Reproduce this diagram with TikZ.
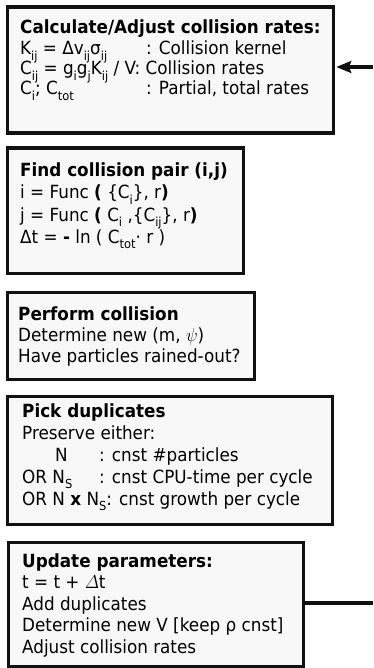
\documentclass[tikz,border=0pt]{standalone}
\usepackage{amsmath}
\usepackage{fontspec}
\setmainfont{DejaVu Sans}
\usetikzlibrary{arrows.meta}
\definecolor{boxfill}{HTML}{F8F8F8}
\definecolor{boxline}{HTML}{111111}
\newcommand{\lsub}[1]{\raisebox{-0.28em}{\fontsize{11.5}{11.5}\selectfont #1}}
\newcommand{\vs}[1]{\scalebox{1}[1.08]{#1}}
\tikzset{
  box/.style={draw=boxline, fill=boxfill, line width=3.2pt, inner sep=0pt, anchor=north west},
  txt/.style={anchor=base west, inner sep=0pt, font=\fontsize{16.8}{20}\selectfont},
  conn/.style={draw=boxline, line width=3.2pt}
}
\begin{document}
\begin{tikzpicture}[x=1pt,y=-1pt]
\useasboundingbox (0,0) rectangle (373,668);
% boxes
\node[box, minimum width=326pt, minimum height=126pt] (b1) at (5.5,5.5) {};
\node[box, minimum width=236pt, minimum height=125pt] (b2) at (5.5,146.5) {};
\node[box, minimum width=247pt, minimum height=87pt] (b3) at (5.5,290.5) {};
\node[box, minimum width=325pt, minimum height=128pt] (b4) at (5.5,394.5) {};
\node[box, minimum width=295pt, minimum height=124pt] (b5) at (6.5,540.5) {};
% box 1
\node[txt] (t1) at (20,34) {\vs{\textbf{Calculate/Adjust collision rates:}}};
\node[txt] (t1a) at (20,55) {\vs{K\lsub{ij} = Δv\lsub{ij}σ\lsub{ij}}};
\node[txt] (t1b) at (146,55) {\vs{: Collision kernel}};
\node[txt] (t1c) at (20,75) {\vs{C\lsub{ij} = g\lsub{i}g\lsub{j}K\lsub{ij} / V: Collision rates}};
\node[txt] (t1d) at (20,95) {\vs{C\lsub{i}; C\lsub{tot}}};
\node[txt] (t1e) at (146,95) {\vs{: Partial, total rates}};
% box 2
\node[txt] (t2) at (20,177) {\vs{\textbf{Find collision pair (i,j)}}};
\node[txt] (t2a) at (20,199) {\vs{i = Func \textbf{(} \{C\lsub{i}\}, r\textbf{)}}};
\node[txt] (t2b) at (20,221) {\vs{j = Func \textbf{(} C\lsub{i} ,\{C\lsub{ij}\}, r\textbf{)}}};
\node[txt] (t2c) at (20,243) {\vs{Δt = \textbf{-} ln ( C\lsub{tot}· r )}};
% box 3
\node[txt] (t3) at (18,320) {\vs{\textbf{Perform collision}}};
\node[txt] (t3a) at (18,341) {\vs{Determine new (m, $\psi$)}};
\node[txt] (t3b) at (18,362) {\vs{Have particles rained-out?}};
% box 4
\node[txt] (t4) at (22,417) {\vs{\textbf{Pick duplicates}}};
\node[txt] (t4a) at (22,439) {\vs{Preserve either:}};
\node[txt] (t4b) at (55,461) {\vs{N}};
\node[txt] (t4c) at (99,461) {\vs{: cnst \#particles}};
\node[txt] (t4d) at (22,483) {\vs{OR N\lsub{S}}};
\node[txt] (t4e) at (99,483) {\vs{: cnst CPU-time per cycle}};
\node[txt] (t4f) at (22,505) {\vs{OR N \textbf{x} N\lsub{S}: cnst growth per cycle}};
% box 5
\node[txt] (t5) at (22,567) {\vs{\textbf{Update parameters:}}};
\node[txt] (t5a) at (22,588) {\vs{t = t + $\varDelta$t}};
\node[txt] (t5b) at (22,610) {\vs{Add duplicates}};
\node[txt] (t5c) at (22,631) {\vs{Determine new V [keep ρ cnst]}};
\node[txt] (t5d) at (22,653) {\vs{Adjust collision rates}};
% connectors
\coordinate (ain) at (373,67);
\coordinate (bout) at (373,603);
\draw[conn, -{Stealth[length=15pt,width=12pt,inset=2.5pt]}] (ain) -- ([xshift=1.6pt]b1.east |- ain);
\draw[conn] (b5.east |- bout) -- (bout);
\end{tikzpicture}
\end{document}
